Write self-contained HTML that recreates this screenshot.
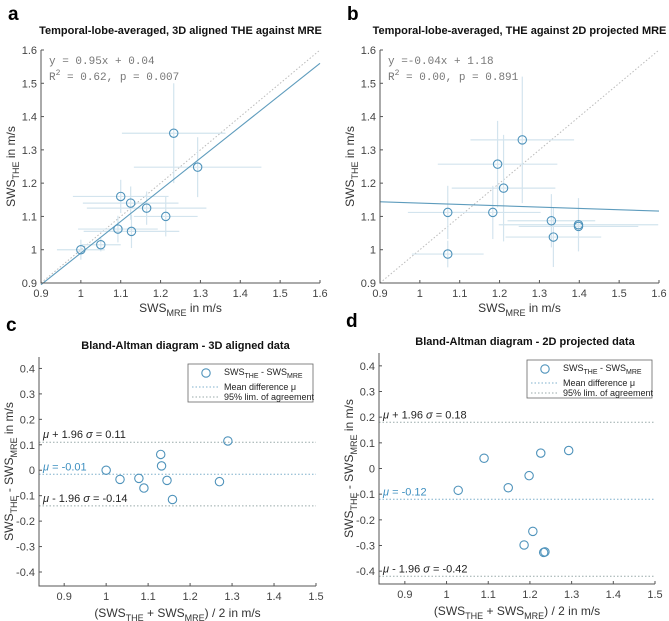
<!DOCTYPE html>
<html><head><meta charset="utf-8">
<style>
html,body{margin:0;padding:0;background:#fff;}
svg{display:block;font-family:"Liberation Sans",Arial,sans-serif;}
.tick{font-size:11px;fill:#444;}
.title{font-size:11px;font-weight:bold;fill:#111;}
.letter{font-size:19px;font-weight:bold;fill:#000;}
.lab{font-size:12px;fill:#333;}
.mono{font-family:"Liberation Mono",monospace;font-size:11px;fill:#777;}
</style></head>
<body>
<svg id="fig" width="669" height="621" viewBox="0 0 669 621"></svg>
<script>
// Panel a data
const aX=[1.0,1.05,1.093,1.10,1.125,1.127,1.165,1.213,1.233,1.293];
const aY=[1.0,1.015,1.062,1.16,1.14,1.055,1.125,1.1,1.35,1.248];
const aXErr=[0.06,0.05,0.1,0.12,0.12,0.12,0.15,0.08,0.13,0.16];
const aYErr=[0.03,0.02,0.04,0.05,0.05,0.05,0.05,0.06,0.15,0.09];
const aFit=[0.95,0.04];
// Panel b data
const bX=[1.07,1.07,1.183,1.195,1.21,1.257,1.33,1.335,1.398,1.398];
const bY=[1.112,0.987,1.112,1.257,1.185,1.33,1.087,1.038,1.075,1.07];
const bXErr=[0.1,0.09,0.12,0.15,0.13,0.13,0.11,0.12,0.2,0.15];
const bYErr=[0.08,0.04,0.08,0.13,0.16,0.19,0.08,0.09,0.08,0.02];
const bFit=[-0.04,1.18];
const scatterTicks=[0.9,1,1.1,1.2,1.3,1.4,1.5,1.6];
// Panel c data
const cX=[1.0,1.033,1.078,1.09,1.13,1.132,1.145,1.158,1.27,1.29];
const cY=[0.0,-0.036,-0.032,-0.07,0.062,0.017,-0.04,-0.115,-0.045,0.115];
const cLines=[-0.016,0.11,-0.14];
// Panel d data
const dX=[1.028,1.09,1.148,1.198,1.226,1.293,1.207,1.186,1.233,1.236];
const dY=[-0.085,0.04,-0.075,-0.028,0.06,0.07,-0.245,-0.298,-0.327,-0.325];
const dLines=[-0.12,0.18,-0.42];
const baXTicks=[0.9,1,1.1,1.2,1.3,1.4,1.5];
const baYTicks=[0.4,0.3,0.2,0.1,0,-0.1,-0.2,-0.3,-0.4];

const NS="http://www.w3.org/2000/svg";
const svg=document.getElementById('fig');
function el(tag,attrs,parent,text){
  const e=document.createElementNS(NS,tag);
  for(const k in attrs)e.setAttribute(k,attrs[k]);
  if(text!==undefined)e.textContent=text;
  (parent||svg).appendChild(e);return e;
}
function lab(v){return String(Math.round(v*10)/10);}
const BLUE="#4f93bb",EB="#d3e4ee";

function axes(g,box,xs,ys,xt,yt,pfx){
  const [L,T,W,H]=box;
  const ax=el('path',{d:`M${L},${T} L${L},${T+H} L${L+W},${T+H}`,fill:'none',stroke:'#555','stroke-width':1},g);
  
  xt.forEach(v=>{const x=xs(v);
    el('line',{x1:x,y1:T+H,x2:x,y2:T+H-3,stroke:'#555'},g);
    const t=el('text',{x:x,y:T+H+14,'text-anchor':'middle',class:'tick'},g,lab(v));
    });
  yt.forEach(v=>{const y=ys(v);
    el('line',{x1:L,y1:y,x2:L+3,y2:y,stroke:'#555'},g);
    const t=el('text',{x:L-4,y:y+4,'text-anchor':'end',class:'tick'},g,lab(v));
    });
}
function marker(g,x,y,name){
  const c=el('circle',{cx:x,cy:y,r:4.2,fill:'none',stroke:BLUE,'stroke-width':1.1},g);
  
}

function scatter(ox,letter,title,X,Y,XE,YE,fit,eq1,eq2,pfx){
  const g=el('g',{},svg);
  
  const L=ox,T=50,W=279,H=233;
  const xs=v=>L+(v-0.9)/0.7*W, ys=v=>T+H-(v-0.9)/0.7*H;
  el('text',{x:ox-33,y:20,class:'letter'},g,letter);
  const tt=el('text',{x:L+W/2,y:34,'text-anchor':'middle',class:'title'},g,title);
  
  el('line',{x1:xs(0.9),y1:ys(0.9),x2:xs(1.6),y2:ys(1.6),stroke:'#bbb','stroke-dasharray':'1.5,2','stroke-width':1},g);
  X.forEach((x,i)=>{
    const e1=el('line',{x1:xs(x-XE[i]),y1:ys(Y[i]),x2:xs(Math.min(1.6,x+XE[i])),y2:ys(Y[i]),stroke:EB,'stroke-width':1.2},g);
    
    const e2=el('line',{x1:xs(x),y1:ys(Y[i]-YE[i]),x2:xs(x),y2:ys(Y[i]+YE[i]),stroke:EB,'stroke-width':1.2},g);
    
  });
  const fl=el('line',{x1:xs(0.9),y1:ys(fit[0]*0.9+fit[1]),x2:xs(1.6),y2:ys(fit[0]*1.6+fit[1]),stroke:'#5e9cbd','stroke-width':1.1},g);
  
  X.forEach((x,i)=>marker(g,xs(x),ys(Y[i]),pfx+'-point'));
  axes(g,[L,T,W,H],xs,ys,scatterTicks,scatterTicks,pfx);
  const e=el('text',{x:L+8,y:T+14,class:'mono'},g,eq1);
  
  const r=el('text',{x:L+8,y:T+30,class:'mono'},g);
  
  el('tspan',{},r,'R');el('tspan',{dy:-5,'font-size':8},r,'2');el('tspan',{dy:5},r,eq2);
  const xl=el('text',{x:L+W/2,y:T+H+29,'text-anchor':'middle',class:'lab'},g);
  
  el('tspan',{},xl,'SWS');el('tspan',{dy:4,'font-size':9},xl,'MRE');el('tspan',{dy:-4},xl,' in m/s');
  const yl=el('text',{transform:`translate(${L-26},${T+H/2}) rotate(-90)`,'text-anchor':'middle',class:'lab'},g);
  
  el('tspan',{},yl,'SWS');el('tspan',{dy:4,'font-size':9},yl,'THE');el('tspan',{dy:-4},yl,' in m/s');
}

function bland(box,xmin,ymin,ymax,letter,title,X,Y,lines,labels,pfx){
  const g=el('g',{},svg);
  
  const [L,T,R,B]=box;
  const xs=v=>L+(v-xmin)/(1.5-xmin)*(R-L), ys=v=>B-(v-ymin)/(ymax-ymin)*(B-T);
  el('text',{x:L-33,y:T-26,class:'letter'},g,letter);
  const tt=el('text',{x:(L+R)/2+8,y:T-8,'text-anchor':'middle',class:'title'},g,title);
  
  lines.forEach((v,i)=>{
    const ln=el('line',{x1:L,y1:ys(v),x2:R,y2:ys(v),stroke:i==0?'#7fb0cc':'#9aa','stroke-dasharray':'1.5,2','stroke-width':1},g);
    
    const t=el('text',{x:L+4,y:ys(v)-4,style:'font-size:11px;fill:'+(i==0?'#3d8fc0':'#222')},g);
    
    el('tspan',{'font-style':'italic'},t,'\u03bc');
    if(i==0) el('tspan',{},t,' = '+labels[2]);
    else {el('tspan',{},t,(i==1?' + ':' - ')+'1.96 ');el('tspan',{'font-style':'italic'},t,'\u03c3');el('tspan',{},t,' = '+labels[i-1]);}
  });
  X.forEach((x,i)=>marker(g,xs(x),ys(Y[i]),pfx+'-point'));
  axes(g,[L,T,R-L,B-T],xs,ys,baXTicks,baYTicks,pfx);
  const xl=el('text',{x:(L+R)/2,y:B+31,'text-anchor':'middle',class:'lab'},g);
  
  el('tspan',{},xl,'(SWS');el('tspan',{dy:4,'font-size':9},xl,'THE');el('tspan',{dy:-4},xl,' + SWS');
  el('tspan',{dy:4,'font-size':9},xl,'MRE');el('tspan',{dy:-4},xl,') / 2  in m/s');
  const yl=el('text',{transform:`translate(${L-26},${(T+B)/2}) rotate(-90)`,'text-anchor':'middle',class:'lab'},g);
  
  el('tspan',{},yl,'SWS');el('tspan',{dy:4,'font-size':9},yl,'THE');el('tspan',{dy:-4},yl,' - SWS');
  el('tspan',{dy:4,'font-size':9},yl,'MRE');el('tspan',{dy:-4},yl,'  in m/s');
  const lx=R-128, ly=T+7;
  const lg=el('g',{},g);
  
  el('rect',{x:lx,y:ly,width:125,height:38,fill:'#fff',stroke:'#666','stroke-width':0.8},lg);
  marker(lg,lx+18,ly+9,pfx+'-legend-marker');
  const t1=el('text',{x:lx+36,y:ly+11,style:'font-size:9px;fill:#222'},lg);
  el('tspan',{},t1,'SWS');el('tspan',{dy:3,'font-size':7},t1,'THE');el('tspan',{dy:-3},t1,' - SWS');el('tspan',{dy:3,'font-size':7},t1,'MRE');
  el('line',{x1:lx+4,y1:ly+23,x2:lx+32,y2:ly+23,stroke:'#7fb0cc','stroke-dasharray':'1.5,2'},lg);
  el('text',{x:lx+36,y:ly+26,style:'font-size:9px;fill:#222'},lg,'Mean difference \u03bc');
  el('line',{x1:lx+4,y1:ly+33,x2:lx+32,y2:ly+33,stroke:'#9aa','stroke-dasharray':'1.5,2'},lg);
  el('text',{x:lx+36,y:ly+36,style:'font-size:9px;fill:#222'},lg,'95% lim. of agreement');
}

scatter(41,'a','Temporal-lobe-averaged, 3D aligned THE against MRE',aX,aY,aXErr,aYErr,aFit,'y = 0.95x + 0.04',' = 0.62, p = 0.007','a');
scatter(380,'b','Temporal-lobe-averaged, THE against 2D projected MRE',bX,bY,bXErr,bYErr,bFit,'y =-0.04x + 1.18',' = 0.00, p = 0.891','b');
bland([39,357,316,586],0.84,-0.455,0.445,'c','Bland-Altman diagram - 3D aligned data',cX,cY,cLines,['0.11','-0.14','-0.01'],'c');
bland([379,353,655,584],0.838,-0.45,0.45,'d','Bland-Altman diagram - 2D projected data',dX,dY,dLines,['0.18','-0.42','-0.12'],'d');
</script>
</body></html>
